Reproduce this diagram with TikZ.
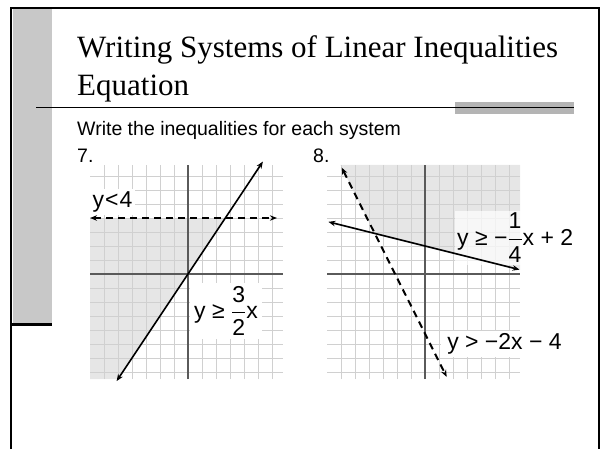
\documentclass[tikz,border=0pt]{standalone}
\usepackage{amsmath}
\usepackage{fontspec}
\setmainfont{Liberation Serif}
\newfontfamily\sansf{Liberation Sans}
\usetikzlibrary{arrows.meta}
\definecolor{gridgray}{HTML}{D0D0D0}
\definecolor{axisgray}{HTML}{5A5A5A}
\definecolor{shadegray}{HTML}{E6E6E6}
\definecolor{barleft}{HTML}{C8C8C8}
\definecolor{barright}{HTML}{B4B4B4}
\newcommand{\lfrac}[2]{$\genfrac{}{}{1.3pt}{0}{\hbox{#1}}{\hbox{#2}}$}
\begin{document}
\begin{tikzpicture}[x=1pt,y=-1pt,
  gridline/.style={draw=gridgray, line width=1pt},
  axisline/.style={draw=axisgray, line width=1.4pt},
  tipboth/.style={{Stealth[length=7pt,width=5.5pt]}-{Stealth[length=7pt,width=5.5pt]}},
  solidline/.style={tipboth, line width=1.6pt, black},
  dashline/.style={tipboth, line width=2pt, dash pattern=on 7pt off 5pt, black},
  lab/.style={font=\sansf\fontsize{23}{27}\selectfont, fill=white, inner sep=2pt},
  small/.style={font=\sansf\fontsize{19.5}{23}\selectfont, inner sep=0pt, anchor=base west}]
\useasboundingbox (0,0) rectangle (604,449);
% frame
\fill[barleft] (12.5,9) rectangle (52,323);
\fill[black] (11,322.5) rectangle (52,326);
\draw[line width=2pt] (11,449) -- (11,8) -- (599,8) -- (599,449);
\fill[barright] (455,102.5) rectangle (574,114);
\draw[line width=1pt] (36,108) -- (574,108);
% title
\node[anchor=base west, inner sep=0pt, font=\fontsize{31}{37}\selectfont] (title1) at (77,58) {Writing Systems of Linear Inequalities};
\node[anchor=base west, inner sep=0pt, font=\fontsize{31}{37}\selectfont] (title2) at (77,96) {Equation};
\node[small] (instr) at (77,136) {Write the inequalities for each system};
\node[small] (num7) at (77,163) {7.};
\node[small] (num8) at (313,163) {8.};
% graph 7
\begin{scope}[xshift=188pt, yshift=-274pt, x=14pt, y=14pt]
  \fill[shadegray] (-7,4) -- (8/3,4) -- (-5,-7.5) -- (-7,-7.5) -- cycle;
  \foreach \i in {-6,...,6} \draw[gridline] (\i,-7.5) -- (\i,7.8);
  \foreach \j in {-7,...,7} \draw[gridline] (-7,\j) -- (6.8,\j);
  \draw[axisline] (0,-7.5) -- (0,7.8);
  \draw[axisline] (-7,0) -- (6.8,0);
  \coordinate (p1a) at (-5.1,-7.65);
  \coordinate (p1b) at (5.35,8.03);
  \coordinate (d1a) at (-7,4);
  \coordinate (d1b) at (6.35,4);
  \draw[solidline] (p1a) -- (p1b);
  \draw[dashline] (d1a) -- (d1b);
\end{scope}
\node[lab, inner xsep=2.5pt, inner ysep=3pt] (lab1) at (112.5,202) {y\kern1pt<\kern1pt4};
\node[lab, inner xsep=4pt, inner ysep=3pt] (lab2) at (226,311) {y ≥ \lfrac{3}{2}x};
% graph 8
\begin{scope}[xshift=425pt, yshift=-274pt, x=14pt, y=14pt]
  \fill[shadegray] (-6.05,7.8) -- (6.8,7.8) -- (6.8,0.3) -- (-3.591,2.898) -- cycle;
  \foreach \i in {-6,...,6} \draw[gridline] (\i,-7.5) -- (\i,7.8);
  \foreach \j in {-7,...,7} \draw[gridline] (-7,\j) -- (6.8,\j);
  \draw[axisline] (0,-7.5) -- (0,7.8);
  \draw[axisline] (-7,0) -- (6.8,0);
  \coordinate (p2a) at (-6.9,3.725);
  \coordinate (p2b) at (6.75,0.3125);
  \coordinate (d2a) at (-5.95,7.6);
  \coordinate (d2b) at (1.55,-7.35);
\end{scope}
\node[lab, fill opacity=0.7, text opacity=1, anchor=west] (lab3) at (455,238) {y ≥ −\lfrac{1}{4}x + 2};
\draw[solidline] (p2a) -- (p2b);
\draw[dashline] (d2a) -- (d2b);
\node[lab, inner xsep=6pt, inner ysep=3pt] (lab4) at (504.5,344) {y > −2x − 4};
\end{tikzpicture}
\end{document}
